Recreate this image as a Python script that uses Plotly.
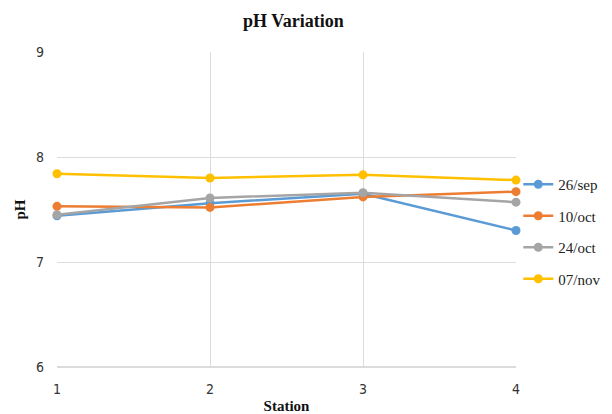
import plotly.graph_objects as go

stations = [1, 2, 3, 4]
sep26 = [7.44, 7.56, 7.65, 7.30]
oct10 = [7.53, 7.52, 7.62, 7.67]
oct24 = [7.45, 7.61, 7.66, 7.57]
nov07 = [7.84, 7.80, 7.83, 7.78]

series = [("26/sep", sep26, "#5b9bd5"), ("10/oct", oct10, "#ed7d31"),
          ("24/oct", oct24, "#a5a5a5"), ("07/nov", nov07, "#ffc000")]

fig = go.Figure()
for name, vals, col in series:
    fig.add_trace(go.Scatter(x=stations, y=vals, name=name, mode="lines+markers",
                             legendgroup=name,
                             line=dict(color=col, width=2.5),
                             marker=dict(color=col, size=9),
                             cliponaxis=False))

fig.update_layout(
    width=612, height=414,
    paper_bgcolor="white", plot_bgcolor="white",
    margin=dict(l=57, r=96, t=52, b=47, autoexpand=False),
    title=dict(text="<b>pH Variation</b>", x=0.515, xref="paper", xanchor="center",
               y=0.95, yanchor="middle",
               font=dict(family="Liberation Serif", size=18, color="#111")),
    legend=dict(x=1.005, xanchor="left", y=0.43, yanchor="middle",
                font=dict(family="Liberation Serif", size=15, color="#222"),
                tracegroupgap=9, itemwidth=30, bgcolor="rgba(0,0,0,0)"),
    xaxis=dict(range=[1, 4], tickvals=stations, ticktext=[str(s) for s in stations],
               showgrid=True, gridcolor="#dcdcdc", gridwidth=1, zeroline=False,
               showline=False, ticks="", ticklabelstandoff=12, automargin=False,
               tickfont=dict(family="Liberation Sans Narrow, DejaVu Sans Condensed", size=14, color="#333"),
               title=dict(text="<b>Station</b>", standoff=4,
                          font=dict(family="Liberation Serif", size=15, color="#111"))),
    yaxis=dict(range=[6, 9], tickvals=[6, 7, 8, 9],
               showgrid=True, gridcolor="#dcdcdc", gridwidth=1, zeroline=False,
               showline=False, ticks="", ticklabelstandoff=12, automargin=False,
               tickfont=dict(family="Liberation Sans Narrow, DejaVu Sans Condensed", size=14, color="#333"),
               title=dict(text="<b>pH</b>", standoff=6,
                          font=dict(family="Liberation Serif", size=15, color="#111"))),
)
fig.add_shape(type="line", xref="paper", yref="paper", x0=0, x1=1, y0=0, y1=0,
              line=dict(color="#cfcfcf", width=1.5))

fig.write_html("out.html")
